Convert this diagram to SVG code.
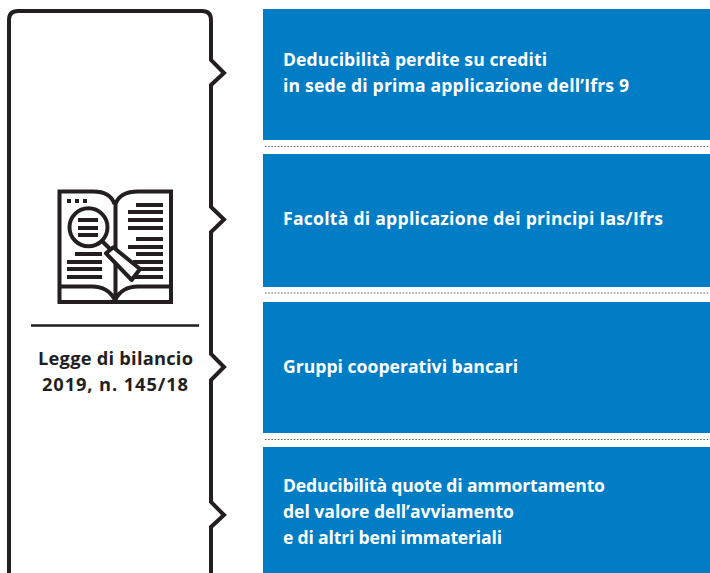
<svg xmlns="http://www.w3.org/2000/svg" width="710" height="573" viewBox="0 0 710 573">
<style>
.box{fill:#007dc5}
.t{font-family:"Open Sans","Noto Sans",sans-serif;font-weight:700;font-size:17.6px;fill:#fff}
.l{font-family:"Open Sans","Noto Sans",sans-serif;font-weight:700;font-size:18.3px;fill:#231f20;text-anchor:middle}
.dot{stroke:#58595b;stroke-width:1.200;stroke-dasharray:1.500 1.700;fill:none}
.s{fill:none;stroke:#231f20;stroke-width:4}
.b{fill:#231f20}
</style>
<rect width="710" height="573" fill="#fff"/>
<g id="connectors">
<path d="M9 580V20Q9 11 18 11H202Q211 11 211 20V60L224 73 211 85V207L224 219.500 211 232V354L224 367 211 380V502L224 515 211 527V580" fill="none" stroke="#231f20" stroke-width="4"/>
<path class="dot" d="M265 146.500H710M265 293H710M265 439.500H710"/>
</g>
<g id="node-legge">
<g id="icon">
<path class="s" d="M114.500 204Q110 191 92 191.500H59.500V302H171V191.500H138Q120 191.500 115.500 204V301"/>
<path class="s" d="M59.500 286.500H92Q108 286.500 115 300Q122 286.500 138 286.500H171"/>
<path class="b" d="M67 199h4v4h-4zM75 199h4v4h-4zM83 199h4v4h-4zM136 203h27v4h-27zM128 210h35v4h-35zM128 218h35v4h-35zM128 226h35v4h-35zM136 237h27v4h-27zM128 245h35v4h-35zM136 252h27v4h-27zM133 260h30v4h-30zM133 267h30v4h-30zM133 275h30v4h-30zM78 218h20v4h-20zM78 226h20v4h-20zM78 233h20v4h-20zM75 252h27v4h-27zM67 260h35v4h-35zM67 267h35v4h-35zM67 275h35v4h-35z"/>
<circle class="s" cx="88.500" cy="227.300" r="19"/>
<path class="s" d="M102 241L110 249"/>
<path d="M106 253.300L113.300 247.300L140 269L131.700 280Z" fill="#fff" stroke="#231f20" stroke-width="4" stroke-linejoin="round"/>
</g>
<path d="M31 325.500H199" stroke="#231f20" stroke-width="2.500" fill="none"/>
<text class="l" x="115.500" y="365" textLength="155">Legge di bilancio</text>
<text class="l" x="115" y="391" textLength="146">2019, n. 145/18</text>
</g>
<g id="node-1"><rect class="box" x="263" y="9" width="447" height="131"/>
<text class="t" x="283" y="66" textLength="264">Deducibilità perdite su crediti</text>
<text class="t" x="283" y="92" textLength="346">in sede di prima applicazione dell’Ifrs 9</text></g>
<g id="node-2"><rect class="box" x="263" y="154" width="447" height="133"/>
<text class="t" x="283" y="225" textLength="380">Facoltà di applicazione dei principi Ias/Ifrs</text></g>
<g id="node-3"><rect class="box" x="263" y="302" width="447" height="131"/>
<text class="t" x="283" y="373" textLength="235">Gruppi cooperativi bancari</text></g>
<g id="node-4"><rect class="box" x="263" y="447" width="447" height="126"/>
<text class="t" x="283" y="492" textLength="322">Deducibilità quote di ammortamento</text>
<text class="t" x="283" y="518" textLength="231">del valore dell’avviamento</text>
<text class="t" x="283" y="544" textLength="219">e di altri beni immateriali</text></g>
</svg>
